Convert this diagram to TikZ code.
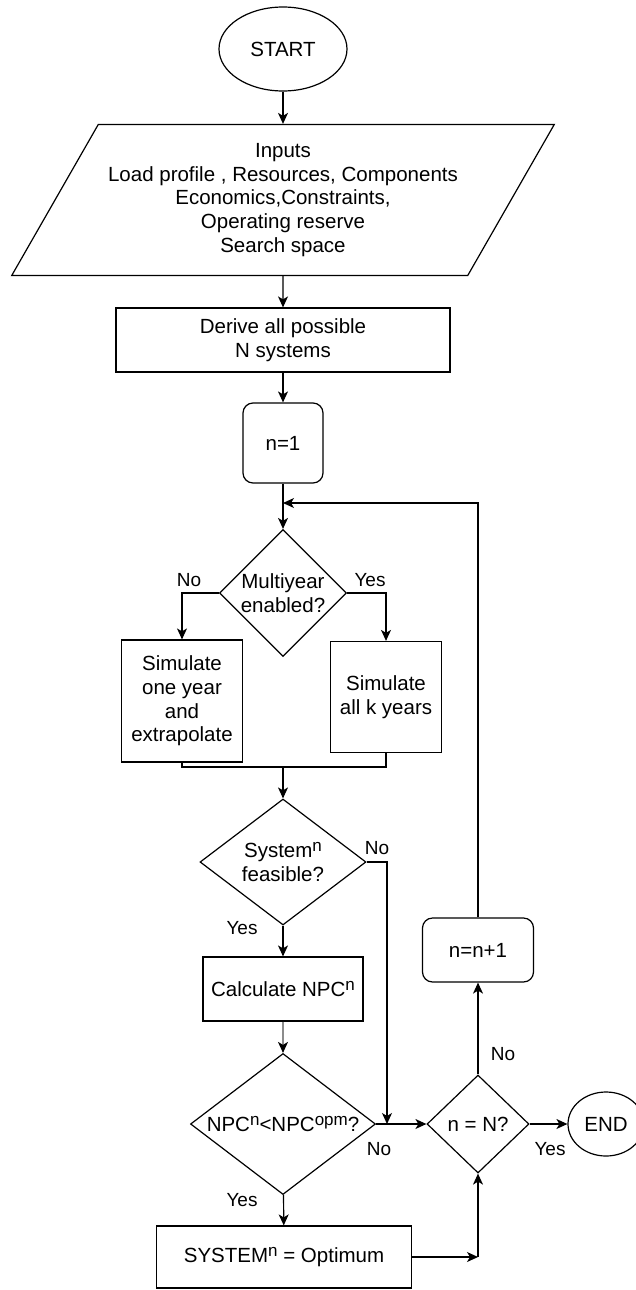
\documentclass[tikz,border=0pt]{standalone}
\usepackage{fontspec}
\setmainfont{Liberation Sans}
\usetikzlibrary{shapes.geometric,arrows.meta}
\newcommand{\idx}[1]{\raisebox{0.6ex}{\fontsize{17}{17}\selectfont #1}}

\begin{document}
\begin{tikzpicture}[
				x=1pt, y=-1pt,
				line width=1.2pt,
				every node/.style={align=center, inner sep=0pt, font=\fontsize{20.5}{23.6}\selectfont},
				terminal/.style={draw, ellipse},
				process/.style={draw, rectangle},
				counter/.style={draw, rectangle, rounded corners=10pt},
				decision/.style={draw, diamond},
				io/.style={draw, trapezium, trapezium left angle=54, trapezium right angle=126, trapezium stretches=true},
				answer/.style={font=\fontsize{19}{22}\selectfont},
				>={Stealth[length=11pt, width=10pt, inset=3pt, color=black]},
				flow/.style={draw, ->}
				]
				
				\useasboundingbox (0,0) rectangle (636,1290);
				
				\node[terminal, minimum width=128, minimum height=84] (start) at (283,49) {START};
				\node[io, minimum width=545, minimum height=151] (inputs) at (283,200) {Inputs\\Load profile , Resources, Components\\Economics,Constraints,\\Operating reserve\\Search space};
				\node[process, minimum width=334, minimum height=64] (derive) at (283,340) {Derive all possible\\N systems};
				\node[counter, minimum width=80, minimum height=80] (init) at (283,443) {n=1};
				\coordinate (loop) at (283,503);
				\node[decision, minimum width=127, minimum height=127, label={center:{Multiyear\\enabled?}}] (multi) at (283,593) {};
				\node[process, minimum width=121, minimum height=122] (oneyear) at (182,701) {Simulate\\one year\\and\\extrapolate};
				\node[process, minimum width=111, minimum height=111] (allyears) at (386,697) {Simulate\\all k years};
				\coordinate (join) at (283,767);
				\node[decision, minimum width=166, minimum height=126, label={center:{System\idx{n}\\feasible?}}] (feasible) at (283,862) {};
				\node[process, minimum width=160, minimum height=64] (npc) at (283,989) {Calculate NPC\idx{n}};
				\node[decision, minimum width=185, minimum height=141, label={center:{NPC\idx{n}<NPC\idx{opm}?}}] (better) at (283,1124) {};
				\coordinate (skip) at (387,1124);
				\node[decision, minimum width=102, minimum height=98, label={center:{n = N?}}] (last) at (478,1124) {};
				\node[counter, minimum width=111, minimum height=64] (next) at (478,950) {n=n+1};
				\node[terminal, minimum width=76, minimum height=64] (end) at (606,1124) {END};
				\node[process, minimum width=255, minimum height=62] (optimum) at (284,1257) {SYSTEM\idx{n} = Optimum};
				\coordinate (optjoin) at (478,1257);
				
				\node[answer] (nomulti) at (189,580) {No};
				\node[answer] (yesmulti) at (370,580) {Yes};
				\node[answer] (nofeas) at (377,848) {No};
				\node[answer] (yesfeas) at (242,928) {Yes};
				\node[answer] (nobetter) at (379,1149) {No};
				\node[answer] (yesbetter) at (242,1200) {Yes};
				\node[answer] (nolast) at (503,1054) {No};
				\node[answer] (yeslast) at (550,1149) {Yes};
				
				\draw[flow] (start) -- (inputs);
				\draw[flow] (inputs) -- (derive);
				\draw[flow] (derive) -- (init);
				\draw[flow] (init) -- (multi);
				\draw[flow] (multi.west) -| (oneyear.north);
				\draw[flow] (multi.east) -| (allyears.north);
				\draw (oneyear.south) |- (join) -| (allyears.south);
				\draw[flow] (join) -- (feasible);
				\draw[flow] (feasible.east) -| (skip);
				\draw[flow] (feasible) -- (npc);
				\draw[flow, draw=black!45] (npc) -- (better);
				\draw[flow] (better) -- (last);
				\draw[flow] (better) -- (optimum);
				\draw[flow] (optimum) -- (optjoin);
				\draw[flow] (optjoin) -- (last);
				\draw[flow] (last) -- (next);
				\draw[flow] (next.north) |- (loop);
				\draw[flow] (last) -- (end);
				
			\end{tikzpicture}
\end{document}
